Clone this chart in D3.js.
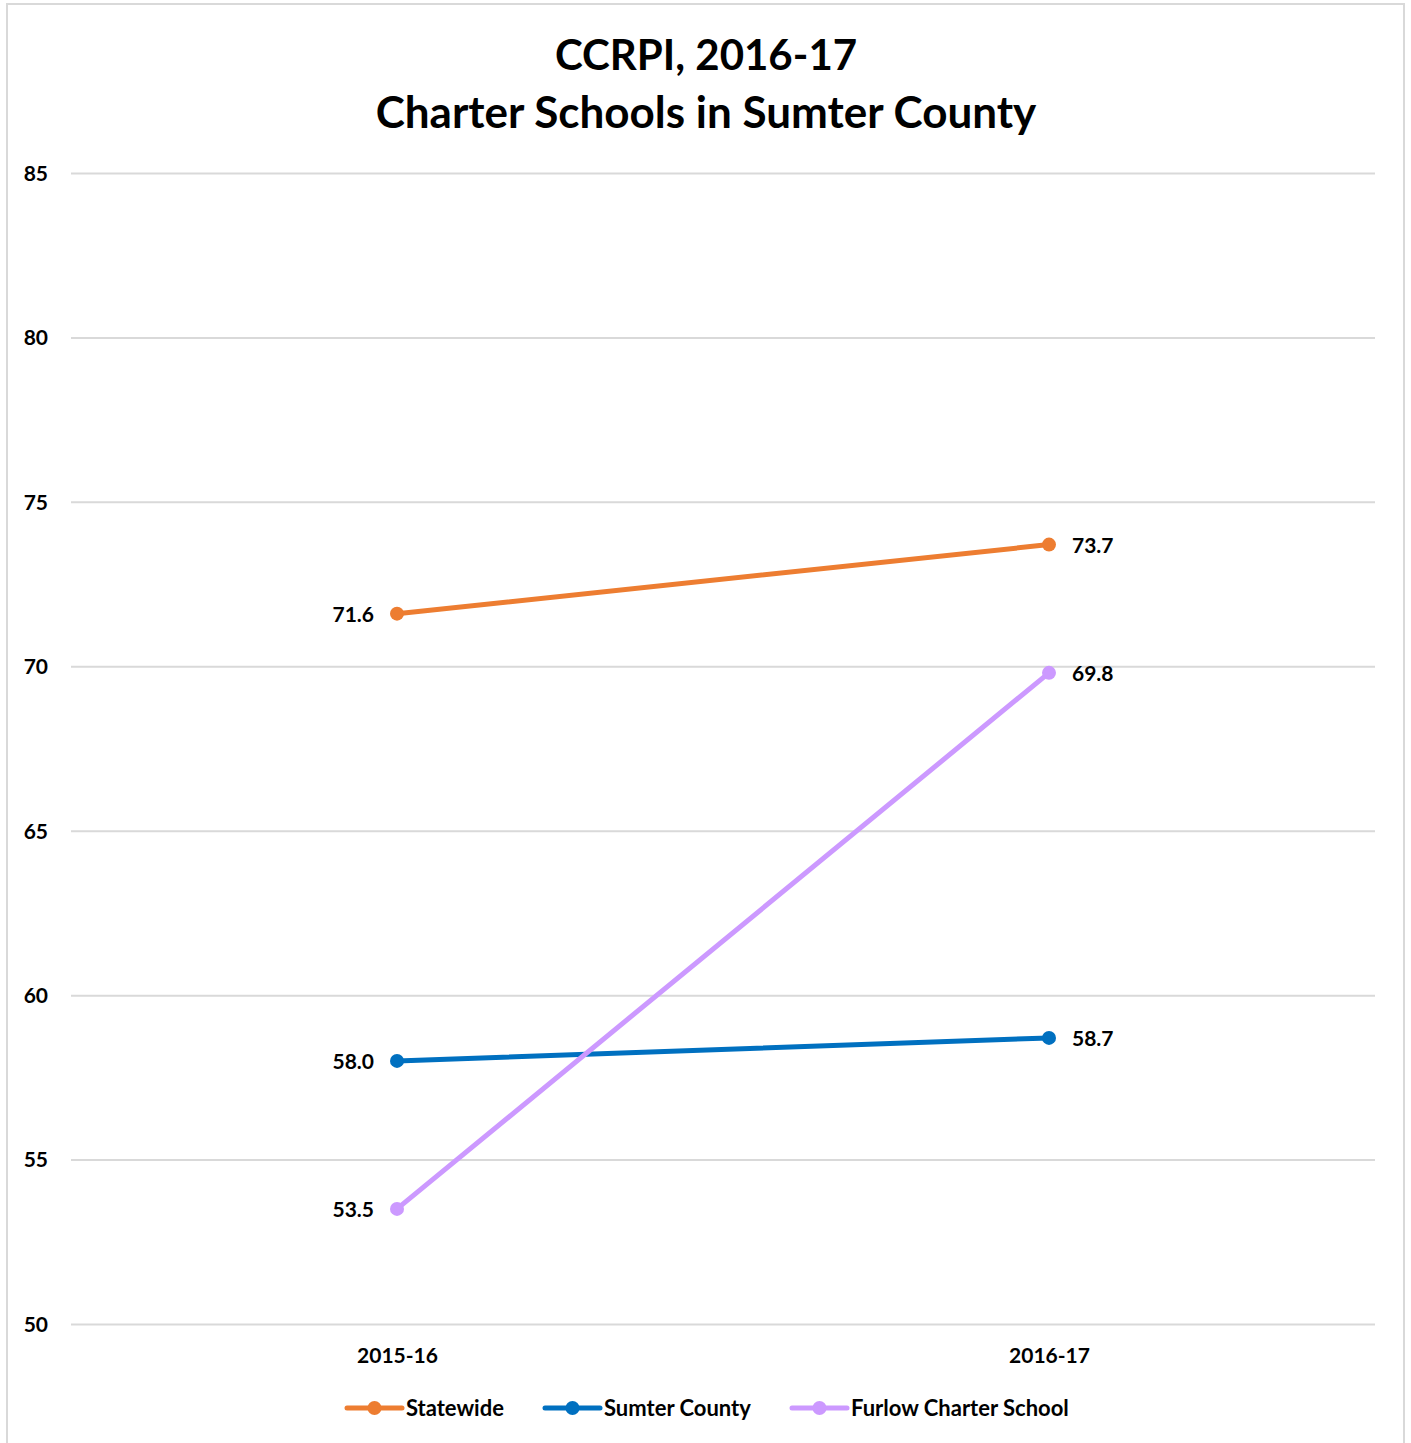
<!DOCTYPE html>
<html><head><meta charset="utf-8">
<script src="https://cdn.jsdelivr.net/npm/d3@7"></script>
<style>
html,body{margin:0;padding:0;background:#fff;}
text{font-family:Lato,"Open Sans",sans-serif;font-weight:bold;fill:#000;}
</style></head>
<body>
<svg id="chart" width="1411" height="1443"></svg>
<script>
const years = ["2015-16", "2016-17"];
const seriesNames = ["Statewide", "Sumter County", "Furlow Charter School"];
const statewide = [71.6, 73.7];
const sumter = [58.0, 58.7];
const furlow = [53.5, 69.8];
const colors = ["#ED7D31", "#0070C0", "#CC99FF"];
const yTicks = [50, 55, 60, 65, 70, 75, 80, 85];
const titleLines = ["CCRPI, 2016-17", "Charter Schools in Sumter County"];

const series = [statewide, sumter, furlow].map((v, i) => ({name: seriesNames[i], values: v, color: colors[i]}));

const svg = d3.select("#chart");
svg.append("rect").attr("x", 7).attr("y", 4).attr("width", 1397).attr("height", 1445)
  .attr("fill", "#fff").attr("stroke", "#d9d9d9").attr("stroke-width", 2);

const x = d3.scalePoint().domain(years).range([71, 1375]).padding(0.5);
const y = d3.scaleLinear().domain([50, 85]).range([1324, 173]);

svg.selectAll(".title").data(titleLines).join("text")
  .attr("x", 706).attr("y", (d, i) => 70 + i * 58)
  .attr("text-anchor", "middle").style("font-size", (d, i) => i === 0 ? "42px" : "44px").text(d => d);

const yAxis = d3.axisLeft(y).tickValues(yTicks).tickSize(-1304).tickPadding(0).tickFormat(d3.format("d"));
const gy = svg.append("g").attr("transform", "translate(71,0)").call(yAxis);
gy.select(".domain").remove();
gy.selectAll(".tick line").attr("stroke", "#d9d9d9").attr("stroke-width", 2);
gy.selectAll(".tick text").attr("x", -23).attr("dy", "0.35em").attr("text-anchor", "end").style("font-size", "21px").attr("fill", "#000");

const xAxis = d3.axisBottom(x).tickSize(0).tickPadding(0);
const gx = svg.append("g").attr("transform", "translate(0,1324)").call(xAxis);
gx.select(".domain").remove();
gx.selectAll(".tick text").attr("y", 32).attr("dy", "0.35em").style("font-size", "21px").attr("fill", "#000");

const line = d3.line().x((d, i) => x(years[i])).y(d => y(d));
const g = svg.append("g");
series.forEach(s => {
  g.append("path").attr("d", line(s.values)).attr("fill", "none").attr("stroke", s.color).attr("stroke-width", 5).attr("stroke-linecap", "round");
  g.selectAll(null).data(s.values).join("circle")
    .attr("cx", (d, i) => x(years[i])).attr("cy", d => y(d)).attr("r", 7).attr("fill", s.color);
  g.selectAll(null).data(s.values).join("text")
    .attr("x", (d, i) => x(years[i]) + (i === 0 ? -23 : 23))
    .attr("y", d => y(d)).attr("dy", "0.38em")
    .attr("text-anchor", (d, i) => i === 0 ? "end" : "start")
    .style("font-size", "21px").text(d => d.toFixed(1));
});

const legendX = [347, 545, 792];
const lg = svg.append("g");
series.forEach((s, i) => {
  const lx = legendX[i], ly = 1408;
  lg.append("line").attr("x1", lx).attr("x2", lx + 55).attr("y1", ly).attr("y2", ly)
    .attr("stroke", s.color).attr("stroke-width", 5).attr("stroke-linecap", "round");
  lg.append("circle").attr("cx", lx + 27.5).attr("cy", ly).attr("r", 7).attr("fill", s.color);
  lg.append("text").attr("x", lx + 59).attr("y", ly).attr("dy", "0.37em").style("font-size", "22px").text(s.name);
});
</script>
</body></html>
